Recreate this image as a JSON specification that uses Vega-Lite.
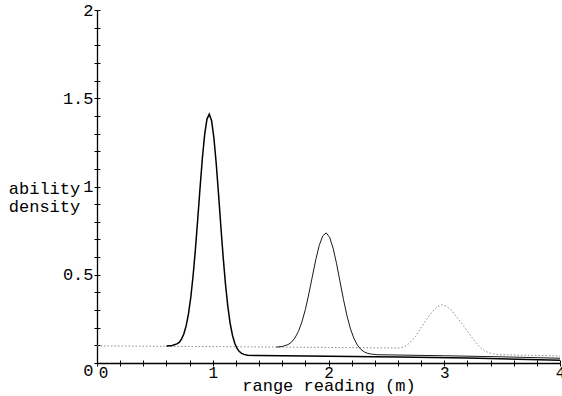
{
  "$schema": "https://vega.github.io/schema/vega-lite/v6.json",
  "width": 463,
  "height": 353,
  "autosize": {"type": "none"},
  "padding": {"left": 97, "top": 10, "right": 2, "bottom": 33},
  "background": "white",
  "config": {"view": {"stroke": null}, "font": "Liberation Mono"},
  "datasets": {
    "c1": [
      {"x": 0.6, "y": 0.097}, {"x": 0.65, "y": 0.099}, {"x": 0.69, "y": 0.108}, {"x": 0.71, "y": 0.117},
      {"x": 0.73, "y": 0.135}, {"x": 0.75, "y": 0.164}, {"x": 0.77, "y": 0.21}, {"x": 0.79, "y": 0.277},
      {"x": 0.81, "y": 0.371}, {"x": 0.83, "y": 0.493}, {"x": 0.85, "y": 0.643}, {"x": 0.87, "y": 0.812},
      {"x": 0.89, "y": 0.99}, {"x": 0.91, "y": 1.157}, {"x": 0.93, "y": 1.294}, {"x": 0.95, "y": 1.382},
      {"x": 0.97, "y": 1.41}, {"x": 0.99, "y": 1.373}, {"x": 1.01, "y": 1.275}, {"x": 1.03, "y": 1.13},
      {"x": 1.05, "y": 0.957}, {"x": 1.07, "y": 0.773}, {"x": 1.09, "y": 0.6}, {"x": 1.11, "y": 0.446},
      {"x": 1.13, "y": 0.322}, {"x": 1.15, "y": 0.226}, {"x": 1.17, "y": 0.158}, {"x": 1.19, "y": 0.112},
      {"x": 1.21, "y": 0.0825}, {"x": 1.23, "y": 0.0647}, {"x": 1.25, "y": 0.0546}, {"x": 1.27, "y": 0.049},
      {"x": 1.3, "y": 0.044}, {"x": 1.4, "y": 0.042}, {"x": 2.0, "y": 0.038}, {"x": 2.6, "y": 0.034},
      {"x": 3.2, "y": 0.028}, {"x": 4.0, "y": 0.016}
    ],
    "c2": [
      {"x": 1.55, "y": 0.09}, {"x": 1.6, "y": 0.0935}, {"x": 1.65, "y": 0.104}, {"x": 1.68, "y": 0.118},
      {"x": 1.71, "y": 0.142}, {"x": 1.74, "y": 0.1785}, {"x": 1.77, "y": 0.232}, {"x": 1.8, "y": 0.303},
      {"x": 1.83, "y": 0.391}, {"x": 1.86, "y": 0.488}, {"x": 1.89, "y": 0.585}, {"x": 1.92, "y": 0.666},
      {"x": 1.95, "y": 0.72}, {"x": 1.98, "y": 0.737}, {"x": 2.01, "y": 0.712}, {"x": 2.04, "y": 0.65},
      {"x": 2.07, "y": 0.562}, {"x": 2.1, "y": 0.459}, {"x": 2.13, "y": 0.358}, {"x": 2.16, "y": 0.267},
      {"x": 2.19, "y": 0.193}, {"x": 2.22, "y": 0.1385}, {"x": 2.25, "y": 0.101}, {"x": 2.28, "y": 0.0767},
      {"x": 2.31, "y": 0.0625}, {"x": 2.34, "y": 0.0544}, {"x": 2.37, "y": 0.0504}, {"x": 2.42, "y": 0.047},
      {"x": 3.0, "y": 0.041}, {"x": 3.5, "y": 0.035}, {"x": 4.0, "y": 0.027}
    ],
    "c3": [
      {"x": 0, "y": 0.097}, {"x": 1.0, "y": 0.093}, {"x": 2.0, "y": 0.088}, {"x": 2.6, "y": 0.085},
      {"x": 2.63, "y": 0.087}, {"x": 2.66, "y": 0.093}, {"x": 2.7, "y": 0.113}, {"x": 2.75, "y": 0.15},
      {"x": 2.8, "y": 0.2}, {"x": 2.85, "y": 0.25}, {"x": 2.9, "y": 0.293}, {"x": 2.94, "y": 0.318},
      {"x": 2.98, "y": 0.33}, {"x": 3.02, "y": 0.322}, {"x": 3.06, "y": 0.3}, {"x": 3.1, "y": 0.268},
      {"x": 3.15, "y": 0.225}, {"x": 3.2, "y": 0.18}, {"x": 3.25, "y": 0.135}, {"x": 3.3, "y": 0.095},
      {"x": 3.35, "y": 0.068}, {"x": 3.4, "y": 0.055}, {"x": 3.45, "y": 0.049}, {"x": 3.5, "y": 0.047},
      {"x": 4.0, "y": 0.04}
    ]
  },
  "layer": [
    {
      "data": {"name": "c3"},
      "mark": {"type": "line", "color": "#8a8a8a", "strokeWidth": 1, "strokeDash": [1.5, 2]},
      "encoding": {
        "x": {
          "field": "x", "type": "quantitative",
          "scale": {"domain": [0, 4], "nice": false, "zero": false},
          "axis": {
            "orient": "bottom",
            "values": [0, 0.2, 0.4, 0.6, 0.8, 1, 1.2, 1.4, 1.6, 1.8, 2, 2.2, 2.4, 2.6, 2.8, 3, 3.2, 3.4, 3.6, 3.8, 4],
            "labelExpr": "datum.value % 1 === 0 ? toString(datum.value) : ''",
            "labelOverlap": false, "labelFlush": false, "labelBound": false,
            "labelFont": "Liberation Mono", "labelFontSize": 16, "labelColor": "black", "labelPadding": -2,
            "labelOffset": {"condition": {"test": "datum.value === 0", "value": 6}, "value": 0},
            "tickSize": 3, "tickColor": "black", "tickWidth": 1,
            "domainColor": "black", "domainWidth": 1.3, "grid": false,
            "title": "range reading (m)", "titleFont": "Liberation Mono", "titleFontSize": 17,
            "titleFontWeight": "normal", "titleColor": "black", "titlePadding": -3
          }
        },
        "y": {
          "field": "y", "type": "quantitative",
          "scale": {"domain": [0, 2], "nice": false},
          "axis": {
            "orient": "left",
            "values": [0, 0.1, 0.2, 0.3, 0.4, 0.5, 0.6, 0.7, 0.8, 0.9, 1, 1.1, 1.2, 1.3, 1.4, 1.5, 1.6, 1.7, 1.8, 1.9, 2],
            "labelExpr": "datum.value % 0.5 === 0 ? toString(datum.value) : ''",
            "labelOverlap": false, "labelFlush": false, "labelBound": false,
            "labelFont": "Liberation Mono", "labelFontSize": 17, "labelColor": "black", "labelPadding": 1,
            "labelOffset": {"condition": {"test": "datum.value === 0", "value": 7}, "value": 0},
            "tickSize": 3, "tickColor": "black", "tickWidth": 1,
            "domainColor": "black", "domainWidth": 1.3, "grid": false,
            "title": ["ability", "density"], "titleFont": "Liberation Mono", "titleFontSize": 17,
            "titleFontWeight": "normal", "titleColor": "black", "titleAngle": 0,
            "titleAlign": "center", "titleBaseline": "top", "titleLineHeight": 18,
            "titleX": -53, "titleY": 170
          }
        }
      }
    },
    {
      "data": {"name": "c2"},
      "mark": {"type": "line", "color": "#1a1a1a", "strokeWidth": 1},
      "encoding": {
        "x": {"field": "x", "type": "quantitative", "axis": null},
        "y": {"field": "y", "type": "quantitative", "axis": null}
      }
    },
    {
      "data": {"name": "c1"},
      "mark": {"type": "line", "color": "black", "strokeWidth": 1.5},
      "encoding": {
        "x": {"field": "x", "type": "quantitative", "axis": null},
        "y": {"field": "y", "type": "quantitative", "axis": null}
      }
    },
    {
      "data": {"name": "c1"},
      "mark": {"type": "point", "opacity": 0},
      "encoding": {
        "x": {
          "field": "x", "type": "quantitative",
          "axis": {
            "orient": "top", "offset": -353,
            "values": [0, 0.2, 0.4, 0.6, 0.8, 1, 1.2, 1.4, 1.6, 1.8, 2, 2.2, 2.4, 2.6, 2.8, 3, 3.2, 3.4, 3.6, 3.8, 4],
            "labels": false, "domain": false, "grid": false, "title": null,
            "tickSize": 3, "tickColor": "black", "tickWidth": 1
          }
        },
        "y": {
          "field": "y", "type": "quantitative",
          "axis": {
            "orient": "right", "offset": -463,
            "values": [0, 0.1, 0.2, 0.3, 0.4, 0.5, 0.6, 0.7, 0.8, 0.9, 1, 1.1, 1.2, 1.3, 1.4, 1.5, 1.6, 1.7, 1.8, 1.9, 2],
            "labels": false, "domain": false, "grid": false, "title": null,
            "tickSize": 3, "tickColor": "black", "tickWidth": 1
          }
        }
      }
    }
  ],
  "resolve": {"axis": {"x": "independent", "y": "independent"}}
}
